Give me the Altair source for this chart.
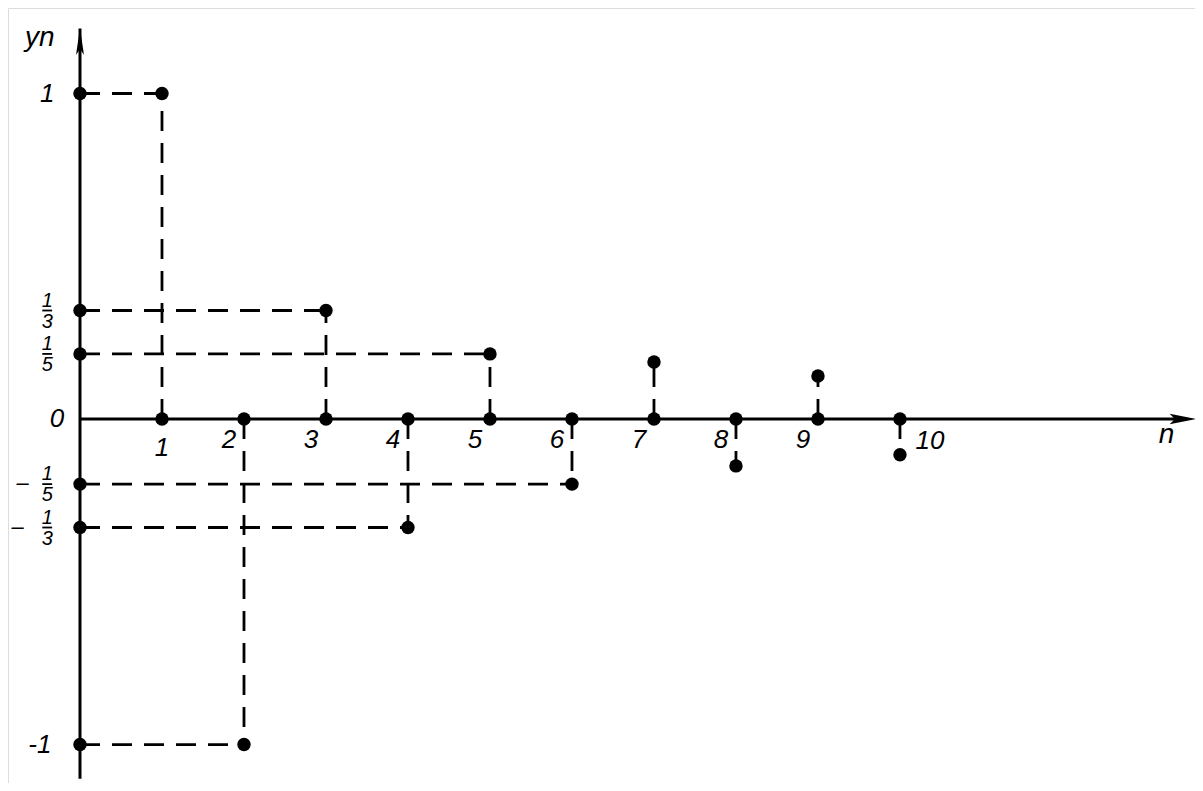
import altair as alt
import pandas as pd

# ---- data ----
n_vals = [1, 2, 3, 4, 5, 6, 7, 8, 9, 10]
y_vals = [1, -1, 1/3, -1/3, 1/5, -1/5, 0.175, -0.144, 0.132, -0.11]
x_tick_labels = ["1", "2", "3", "4", "5", "6", "7", "8", "9", "10"]
n_projected = 6  # first six terms are projected onto the y axis

# whole-number y labels and fraction y labels
y_int_values = [1, 0, -1]
y_int_labels = ["1", "0", "-1"]
frac_values = [1/3, 1/5, -1/5, -1/3]
frac_num = ["1", "1", "1", "1"]
frac_den = ["3", "5", "5", "3"]
frac_neg = [False, False, True, True]

# ---- layout ----
W, H = 1187, 775
X_DOM = [-0.878, 13.598]
Y_DOM = [-1.1182, 1.2627]
FONT = "Liberation Sans"

xs = alt.Scale(domain=X_DOM, nice=False, zero=False)
ys = alt.Scale(domain=Y_DOM, nice=False, zero=False)

pts = pd.DataFrame({"n": n_vals, "y": y_vals, "lab": x_tick_labels})
proj = pts.iloc[:n_projected]

# dashed segments
segs = []
for i, (n, y) in enumerate(zip(n_vals, y_vals)):
    segs.append({"x": n, "x2": n, "y": 0, "y2": y})
    if i < n_projected:
        segs.append({"x": 0, "x2": n, "y": y, "y2": y})
seg_df = pd.DataFrame(segs)

X = lambda f="x": alt.X(f"{f}:Q", scale=xs, axis=None)
Y = lambda f="y": alt.Y(f"{f}:Q", scale=ys, axis=None)

dashed = alt.Chart(seg_df).mark_rule(
    color="black", strokeWidth=2.8, strokeDash=[20, 12]
).encode(x=X("x"), x2="x2:Q", y=Y("y"), y2="y2:Q")

axes_df = pd.DataFrame({
    "x": [0, 0], "x2": [0, 13.5], "y": [-1.105, 0], "y2": [1.2, 0]
})
axes = alt.Chart(axes_df).mark_rule(color="black", strokeWidth=3).encode(
    x=X("x"), x2="x2:Q", y=Y("y"), y2="y2:Q"
)

arrow_up = alt.Chart(pd.DataFrame({"x": [0], "y": [1.16]})).mark_point(
    shape="M0,-1L0.3,1L0,0.6L-0.3,1Z", filled=True, color="black",
    size=700, opacity=1
).encode(x=X("x"), y=Y("y"))
arrow_right = alt.Chart(pd.DataFrame({"x": [13.45], "y": [0]})).mark_point(
    shape="M1,0L-1,-0.4L-0.6,0L-1,0.4Z", filled=True, color="black",
    size=700, opacity=1
).encode(x=X("x"), y=Y("y"))

dot = dict(filled=True, color="black", size=180, opacity=1)
dots_val = alt.Chart(pts).mark_point(**dot).encode(x=X("n"), y=Y("y"))
dots_axis = alt.Chart(pts).transform_calculate(z="0").mark_point(**dot).encode(
    x=X("n"), y=Y("z"))
dots_proj = alt.Chart(proj).transform_calculate(z="0").mark_point(**dot).encode(
    x=X("z"), y=Y("y"))

txt = dict(font=FONT, fontStyle="italic", fontSize=26, color="black",
           align="center", baseline="middle")

lab_mid = pts.iloc[1:9]
xl_mid = alt.Chart(lab_mid).transform_calculate(z="0").mark_text(
    dx=-15, dy=21, **txt).encode(x=X("n"), y=Y("z"), text="lab:N")
xl_1 = alt.Chart(pts.iloc[[0]]).transform_calculate(z="0").mark_text(
    dx=0, dy=29, **txt).encode(x=X("n"), y=Y("z"), text="lab:N")
xl_10 = alt.Chart(pts.iloc[[9]]).transform_calculate(z="0").mark_text(
    dx=30, dy=22, **txt).encode(x=X("n"), y=Y("z"), text="lab:N")

yint_df = pd.DataFrame({"y": y_int_values, "lab": y_int_labels,
                        "x": [-0.40, -0.28, -0.49]})
yl_int = alt.Chart(yint_df).mark_text(**txt).encode(
    x=X("x"), y=Y("y"), text="lab:N")

fr = pd.DataFrame({"y": frac_values, "num": frac_num, "den": frac_den,
                   "neg": frac_neg})
fr["x"] = -0.40
fr["bx"] = -0.46
fr["bx2"] = -0.34
fr["mx"] = [-0.70 if v and abs(y) < 0.25 else -0.76 for v, y in zip(frac_neg, frac_values)]
fr["minus"] = ["–" if v else "" for v in frac_neg]

ftxt = {**txt, "fontSize": 20}
f_num = alt.Chart(fr).mark_text(dy=-10, **ftxt).encode(
    x=X("x"), y=Y("y"), text="num:N")
f_den = alt.Chart(fr).mark_text(dy=11, **ftxt).encode(
    x=X("x"), y=Y("y"), text="den:N")
f_bar = alt.Chart(fr).mark_rule(color="black", strokeWidth=1.8).encode(
    x=X("bx"), x2="bx2:Q", y=Y("y"))
f_minus = alt.Chart(fr).mark_text(dy=-1, **{**txt, "fontSize": 22}).encode(
    x=X("mx"), y=Y("y"), text="minus:N")

titles = pd.DataFrame({"x": [-0.49, 13.25], "y": [1.17, -0.05],
                       "t": ["yn", "n"]})
t_lab = alt.Chart(titles).mark_text(**{**txt, "fontSize": 28}).encode(
    x=X("x"), y=Y("y"), text="t:N")

chart = alt.layer(
    dashed, axes, arrow_up, arrow_right, dots_val, dots_axis, dots_proj,
    xl_mid, xl_1, xl_10, yl_int, f_num, f_den, f_bar, f_minus, t_lab
).properties(
    width=W, height=H, autosize=alt.AutoSizeParams(type="none"), padding=0
).configure_view(stroke=None).configure(background="white")

chart.save("out.html", embed_options={"renderer": "svg", "actions": False})
